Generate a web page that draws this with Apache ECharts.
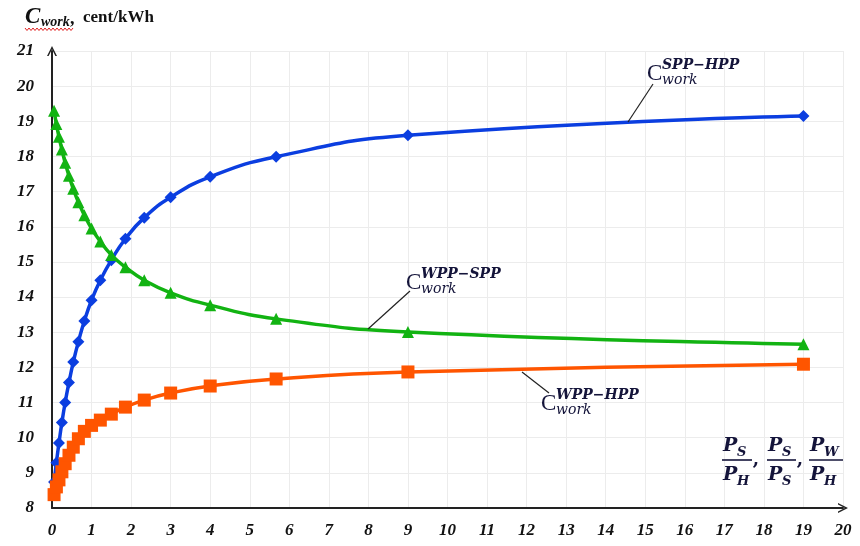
<!DOCTYPE html>
<html><head><meta charset="utf-8">
<script src="https://cdn.jsdelivr.net/npm/echarts@6/dist/echarts.min.js"></script>
<style>html,body{margin:0;padding:0;background:#fff}#c{width:860px;height:546px}</style>
</head><body><div id="c"></div>
<script>
// ---- data ----
const ratio = [0.0526, 0.111, 0.176, 0.25, 0.333, 0.429, 0.538, 0.667, 0.818, 1, 1.222, 1.5, 1.857, 2.333, 3, 4, 5.667, 9, 19];
const cSppHpp = [8.74, 9.29, 9.85, 10.43, 11.0, 11.57, 12.15, 12.73, 13.32, 13.91, 14.48, 15.05, 15.66, 16.26, 16.84, 17.42, 17.99, 18.6, 19.15];
const cWppSpp = [19.3, 18.92, 18.56, 18.2, 17.82, 17.45, 17.08, 16.7, 16.33, 15.95, 15.58, 15.2, 14.85, 14.48, 14.12, 13.77, 13.38, 13.01, 12.66];
const cWppHpp = [8.38, 8.6, 8.8, 9.03, 9.26, 9.5, 9.73, 9.97, 10.18, 10.35, 10.5, 10.67, 10.87, 11.07, 11.27, 11.47, 11.67, 11.87, 12.09];
const xRange = [0, 20];
const yRange = [8, 21];

const pairs = (ys) => ratio.map((x, i) => [x, ys[i]]);
const chart = echarts.init(document.getElementById('c'));
const tickFont = {fontFamily: 'Liberation Serif', fontStyle: 'italic', fontWeight: 'bold', fontSize: 17, color: '#111'};
const chevron = 'path://M5,0 L10,10 L8.4,10 L5,3.2 L1.6,10 L0,10 Z';

function line(lc, sym, size) {
  return {
    type: 'line', smooth: 0.5, symbol: sym, symbolSize: size,
    lineStyle: {color: lc, width: 3.5}, itemStyle: {color: lc}, showAllSymbols: true
  };
}

chart.setOption({
  animation: false,
  backgroundColor: '#fff',
  grid: {left: 52, right: 17, top: 51, bottom: 38},
  xAxis: {
    type: 'value', min: xRange[0], max: xRange[1], interval: 1,
    axisLine: {show: true, onZero: false, symbol: ['none', chevron], symbolSize: [10, 10], lineStyle: {color: '#222', width: 2}},
    axisTick: {show: false},
    axisLabel: Object.assign({margin: 14}, tickFont),
    splitLine: {show: true, lineStyle: {color: '#ececec', width: 1}}
  },
  yAxis: {
    type: 'value', min: yRange[0], max: yRange[1], interval: 1,
    axisLine: {show: true, onZero: false, symbol: ['none', chevron], symbolSize: [10, 10], lineStyle: {color: '#222', width: 2}},
    axisTick: {show: false},
    axisLabel: Object.assign({margin: 18}, tickFont),
    splitLine: {show: true, lineStyle: {color: '#ececec', width: 1}}
  },
  series: [
    Object.assign(line('#0b3ee0', 'diamond', 12), {name: 'SPP-HPP', data: pairs(cSppHpp), z: 2}),
    Object.assign(line('#12b312', 'triangle', 12), {name: 'WPP-SPP', data: pairs(cWppSpp), z: 3}),
    Object.assign(line('#ff5500', 'rect', 13), {name: 'WPP-HPP', data: pairs(cWppHpp), z: 4})
  ]
});

// ---- annotations ----
const serif = 'Liberation Serif';
const mathF = 'DejaVu Serif';
const ink = '#14143a';
function txt(x, y, s, size, o) {
  o = o || {};
  return {type: 'text', x: x, y: y, z: 100, style: {
    text: s, fontSize: size, fontFamily: o.f || serif, fontStyle: o.it ? 'italic' : 'normal',
    fontWeight: o.b ? 'bold' : 'normal', fill: o.c || '#111', align: 'left', verticalAlign: 'top'}};
}
function seg(x1, y1, x2, y2, w, c) {
  return {type: 'line', z: 100, shape: {x1: x1, y1: y1, x2: x2, y2: y2}, style: {stroke: c || '#222', lineWidth: w || 1.2}};
}
function cLabel(x, y, sup) {
  return [
    txt(x, y, 'C', 23, {c: ink}),
    txt(x + 15, y - 4, sup, 14, {f: mathF, it: true, b: true, c: ink}),
    txt(x + 15, y + 11, 'work', 14, {f: mathF, it: true, c: ink})
  ];
}
function frac(x, num, numSub, den, denSub, w) {
  return [
    txt(x, 437, num, 19, {f: mathF, it: true, b: true, c: ink}),
    txt(x + 14, 446, numSub, 13, {f: mathF, it: true, b: true, c: ink}),
    seg(x - 1, 460, x + w, 460, 1.6, ink),
    txt(x, 466, den, 19, {f: mathF, it: true, b: true, c: ink}),
    txt(x + 14, 475, denSub, 13, {f: mathF, it: true, b: true, c: ink})
  ];
}
// wavy red underline under title symbol
const wave = [];
for (let i = 0; i <= 24; i++) wave.push([25 + i * 2, 29 + (i % 2 ? 1.5 : -1)]);

const g = [].concat(
  [txt(25, 6, 'C', 23, {it: true, b: true}),
   txt(41, 15, 'work', 14, {it: true, b: true}),
   txt(70, 10, ',', 18, {b: true}),
   txt(83, 9, 'cent/kWh', 17, {b: true}),
   {type: 'polyline', z: 100, shape: {points: wave}, style: {stroke: '#e02020', lineWidth: 1, fill: null}}],
  cLabel(647, 62, 'SPP\u2212HPP'), [seg(628, 122, 653, 84)],
  cLabel(406, 271, 'WPP\u2212SPP'), [seg(368, 329, 410, 291)],
  cLabel(541, 392, 'WPP\u2212HPP'), [seg(522, 372, 549, 393)],
  frac(723, 'P', 'S', 'P', 'H', 29), [txt(752, 462, '\u2019', 20, {f: mathF, b: true, c: ink})],
  frac(768, 'P', 'S', 'P', 'S', 28), [txt(796, 462, '\u2019', 20, {f: mathF, b: true, c: ink})],
  frac(810, 'P', 'W', 'P', 'H', 33)
);
chart.setOption({graphic: g});
</script>
</body></html>
